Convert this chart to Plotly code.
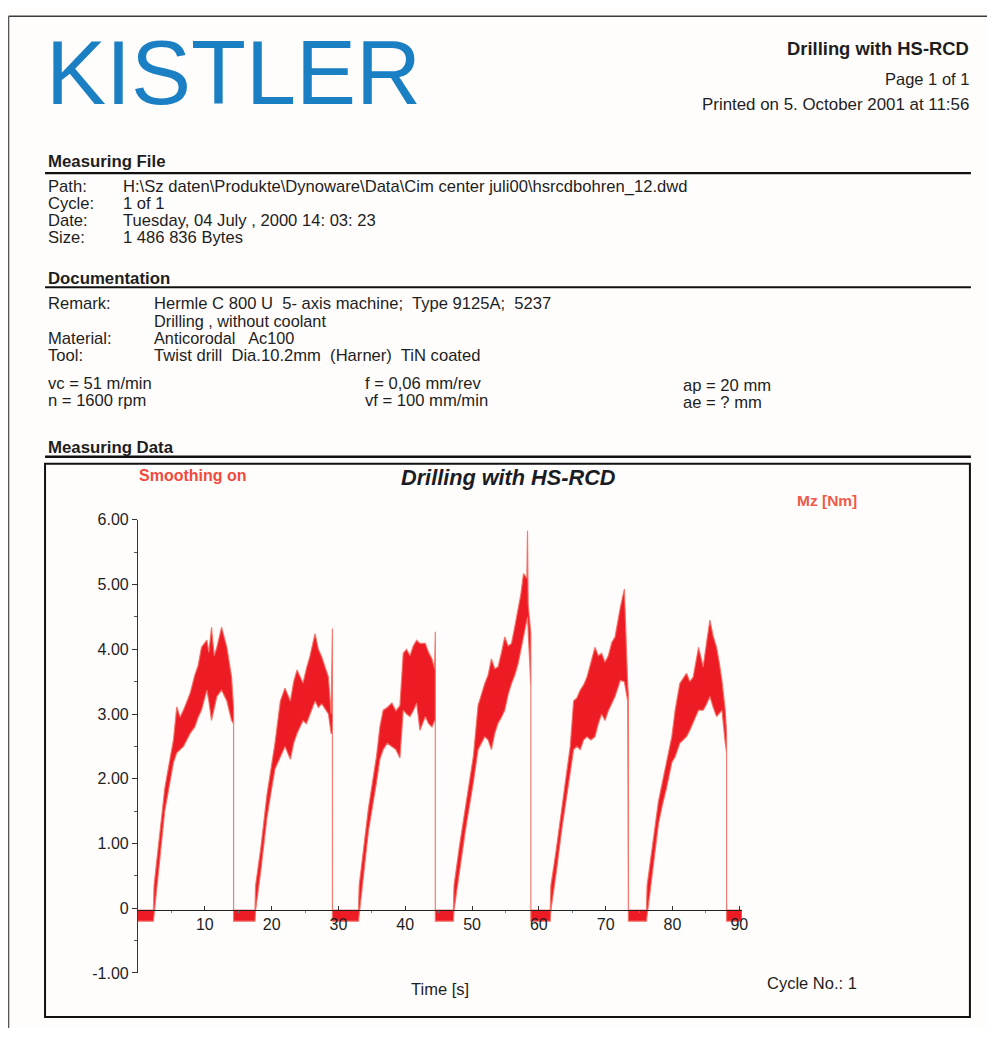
import plotly.graph_objects as go

# Layout positions below are given in reference-page pixels (995 x 1037) and
# mapped to the figure, which sits inside the page's 8 px body margin.
FW, FH = 979, 1020
SX, SY, TY = 0.994, 0.983, 7.5

time_s = [
    0.0, 2.3,
    2.4, 3.2, 4.0, 4.6, 5.3, 5.8, 6.3, 6.8, 7.3, 7.8, 8.5, 9.0, 9.5, 10.3, 10.6, 11.0, 11.4, 11.8, 12.5, 13.3, 14.0, 14.3, 14.3, 17.5,
    17.6, 18.4, 19.3, 20.0, 20.5, 21.3, 22.0, 22.8, 23.3, 23.8, 24.7, 25.2, 25.7, 26.5, 27.0, 27.5, 28.5, 28.9, 29.1, 29.1, 33.0,
    33.1, 33.8, 34.5, 35.1, 35.7, 36.2, 36.7, 37.3, 38.0, 38.6, 39.2, 39.7, 40.2, 40.7, 41.2, 41.7, 42.2, 43.0, 43.5, 44.0, 44.4, 44.5, 44.5, 47.2,
    47.3, 48.1, 49.0, 49.6, 50.2, 50.9, 51.4, 51.9, 52.4, 52.9, 53.4, 53.9, 54.4, 54.9, 55.4, 55.9, 56.4, 56.9, 57.3, 57.7, 58.2, 58.3, 58.4, 58.8, 58.8, 61.7,
    61.8, 62.6, 63.4, 64.1, 64.7, 65.2, 65.7, 66.2, 66.7, 67.2, 67.8, 68.4, 68.9, 69.4, 69.9, 70.4, 70.9, 71.4, 72.2, 72.8, 73.3, 73.4, 73.4, 76.1,
    76.2, 77.0, 77.9, 78.5, 79.1, 79.9, 80.4, 81.1, 81.6, 82.1, 82.6, 83.1, 83.9, 84.6, 85.1, 85.6, 86.1, 86.6, 87.0, 87.4, 87.9, 88.1, 88.1, 90.4,
]
mz_high = [
    -0.03, -0.03,
    0.35, 1.1, 1.85, 2.2, 2.6, 3.11, 2.95, 3.06, 3.2, 3.32, 3.6, 3.75, 4.03, 4.14, 3.95, 4.34, 3.9, 4.03, 4.34, 4.03, 3.57, 3.1, -0.03, -0.03,
    0.35, 0.95, 1.75, 2.2, 2.55, 3.2, 3.4, 3.2, 3.5, 3.68, 3.48, 3.7, 3.88, 4.24, 4.0, 3.88, 3.57, 3.0, 4.32, -0.03, -0.03,
    0.35, 0.95, 1.55, 1.95, 2.35, 2.8, 3.06, 3.1, 3.17, 3.05, 3.13, 3.94, 4.0, 3.9, 4.05, 4.14, 4.09, 4.09, 3.95, 3.85, 3.7, 4.27, -0.03, -0.03,
    0.35, 0.95, 1.55, 1.95, 2.35, 3.13, 3.3, 3.47, 3.6, 3.85, 3.7, 3.73, 3.95, 4.19, 4.05, 4.09, 4.35, 4.6, 4.85, 5.17, 5.1, 5.83, 4.7, 4.24, -0.03, -0.03,
    0.35, 0.9, 1.55, 2.05, 2.5, 3.2, 3.25, 3.37, 3.45, 3.57, 3.8, 4.03, 3.9, 3.94, 3.8, 3.9, 4.1, 4.19, 4.65, 4.93, 3.45, 3.3, -0.03, -0.03,
    0.35, 0.95, 1.65, 1.95, 2.25, 2.65, 3.06, 3.47, 3.55, 3.63, 3.5, 3.57, 4.03, 3.73, 4.1, 4.45, 4.2, 4.03, 3.8, 3.52, 3.06, 2.7, -0.03, -0.03,
]
mz_low = [
    -0.2, -0.2,
    -0.03, 0.7, 1.5, 1.85, 2.25, 2.4, 2.45, 2.5, 2.6, 2.7, 2.8, 2.95, 3.06, 3.37, 3.2, 2.9, 3.1, 3.27, 3.37, 3.2, 2.9, 2.85, -0.2, -0.2,
    -0.03, 0.6, 1.4, 1.85, 2.15, 2.34, 2.5, 2.3, 2.55, 2.7, 2.9, 2.85, 3.0, 3.2, 3.1, 3.16, 3.0, 2.7, 2.7, -0.2, -0.2,
    -0.03, 0.55, 1.2, 1.6, 1.95, 2.3, 2.45, 2.55, 2.5, 2.45, 2.32, 3.06, 3.0, 2.96, 3.05, 3.17, 2.75, 2.96, 2.85, 2.8, 2.9, 2.9, -0.2, -0.2,
    -0.03, 0.55, 1.2, 1.6, 1.95, 2.45, 2.55, 2.65, 2.6, 2.45, 2.7, 2.86, 2.95, 3.06, 3.3, 3.47, 3.6, 3.78, 4.0, 4.19, 4.45, 4.5, 4.3, 3.42, -0.2, -0.2,
    -0.03, 0.55, 1.2, 1.7, 2.1, 2.45, 2.5, 2.45, 2.6, 2.65, 2.6, 2.65, 2.85, 3.0, 2.9, 3.05, 3.15, 3.27, 3.52, 3.5, 3.2, 3.1, -0.2, -0.2,
    -0.03, 0.55, 1.3, 1.6, 1.85, 2.25, 2.34, 2.55, 2.6, 2.65, 2.75, 2.86, 3.06, 3.06, 3.15, 3.27, 3.1, 2.96, 3.0, 3.06, 2.55, 2.4, -0.2, -0.2,
]

x_ticks = [10, 20, 30, 40, 50, 60, 70, 80, 90]
x_tick_labels = ["10", "20", "30", "40", "50", "60", "70", "80", "90"]
x_minor = [5, 15, 25, 35, 45, 55, 65, 75, 85]
y_ticks = [-1, 0, 1, 2, 3, 4, 5, 6]
y_tick_labels = ["-1.00", "0", "1.00", "2.00", "3.00", "4.00", "5.00", "6.00"]
y_minor = [-0.5, 0.5, 1.5, 2.5, 3.5, 4.5, 5.5]

FONT = "Liberation Sans, Arial, Helvetica, sans-serif"
INK = "#1e1e1e"
RED = "#ed1c24"


def px(x):
    return (x / SX - 8) / FW


def py(y):
    return 1 - ((y - TY) / SY - 8) / FH


poly_x = time_s + time_s[::-1]
poly_y = mz_high + mz_low[::-1]

fig = go.Figure()
fig.add_trace(go.Scatter(
    x=poly_x, y=poly_y, mode="lines", fill="toself",
    fillcolor=RED, line=dict(color="rgba(244,110,100,0.9)", width=1.2),
    hoverinfo="skip", showlegend=False,
))

annotations = []


def txt(x, y, s, size=16.6, bold=False, italic=False, color=INK, xanchor="left", family=FONT):
    if bold:
        s = "<b>" + s + "</b>"
    if italic:
        s = "<i>" + s + "</i>"
    annotations.append(dict(
        x=px(x), y=py(y), xref="paper", yref="paper", text=s, showarrow=False,
        xanchor=xanchor, yanchor="middle", font=dict(size=size, color=color, family=family),
    ))


# header
txt(44, 72.5, "KISTLER", size=90, color="#1b7fc3")
txt(971, 48, "Drilling with HS-RCD", size=18.4, bold=True, xanchor="right")
txt(971, 78, "Page 1 of 1", size=16.5, xanchor="right")
txt(971, 104, "Printed on 5. October 2001 at 11:56", size=16.9, xanchor="right")

# measuring file
txt(46, 161, "Measuring File", size=16.8, bold=True)
file_labels = ["Path:", "Cycle:", "Date:", "Size:"]
file_values = ["H:\\Sz daten\\Produkte\\Dynoware\\Data\\Cim center juli00\\hsrcdbohren_12.dwd",
               "1 of 1", "Tuesday, 04 July , 2000 14: 03: 23", "1 486 836 Bytes"]
file_rows_y = [186, 202.5, 220, 237]
for lab, val, yy in zip(file_labels, file_values, file_rows_y):
    txt(46, yy, lab)
    txt(121, yy, val)

# documentation
txt(46, 277.5, "Documentation", size=16.8, bold=True)
txt(46, 303, "Remark:")
txt(152, 303, "Hermle C 800 U  5- axis machine;  Type 9125A;  5237")
txt(152, 320, "Drilling , without coolant", size=16.3)
txt(46, 337.5, "Material:")
txt(152, 337.5, "Anticorodal   Ac100", size=16.3)
txt(46, 354.5, "Tool:")
txt(152, 354.5, "Twist drill  Dia.10.2mm  (Harner)  TiN coated")
txt(46, 382.5, "vc = 51 m/min")
txt(46, 399.5, "n = 1600 rpm")
txt(363, 382.5, "f = 0,06 mm/rev")
txt(363, 399.5, "vf = 100 mm/min")
txt(681, 385, "ap = 20 mm")
txt(681, 402, "ae = ? mm")

# measuring data
txt(46, 446.5, "Measuring Data", size=16.8, bold=True)
txt(137, 475, "Smoothing on", size=16, bold=True, color="#f04a3c")
txt(509, 477, "Drilling with HS-RCD", size=21.7, bold=True, italic=True, color="#1a1c24", xanchor="center")
txt(827, 500, "Mz [Nm]", size=15.5, bold=True, color="#f05a48", xanchor="center")
txt(440, 988, "Time [s]", size=16.5, xanchor="center")
txt(812, 982, "Cycle No.: 1", size=16.5, xanchor="center")

shapes = []


def line(x0, y0, x1, y1, w=1.0, c="#111"):
    shapes.append(dict(type="line", xref="paper", yref="paper",
                       x0=px(x0), y0=py(y0), x1=px(x1), y1=py(y1),
                       line=dict(color=c, width=w)))


line(8.5, 15.5, 995, 15.5, 1.5, "#3a3a3a")
line(8.5, 15.5, 8.5, 1037, 1.5, "#555")
line(45, 172.5, 971, 172.5, 2.2)
line(45, 286.5, 971, 286.5, 2.2)
line(45, 456, 971, 456, 2.6)
shapes.append(dict(type="rect", xref="paper", yref="paper",
                   x0=px(45), y0=py(1016), x1=px(970), y1=py(463),
                   line=dict(color="#111", width=2)))

x_dom = [px(138), px(742)]
y_dom = [py(972), py(519)]
x_pos = py(909)

fig.update_layout(
    width=FW, height=FH, margin=dict(l=0, r=0, t=0, b=0),
    paper_bgcolor="#fffdfc", plot_bgcolor="rgba(0,0,0,0)",
    showlegend=False, annotations=annotations, shapes=shapes,
    font=dict(family=FONT, color=INK),
    xaxis=dict(
        domain=x_dom, range=[0, 90.4], anchor="free", position=x_pos,
        showline=True, linecolor="#222", linewidth=1.2, showgrid=False, zeroline=False,
        tickmode="array", tickvals=x_ticks, ticktext=x_tick_labels,
        ticks="inside", ticklen=4, tickcolor="#333", tickwidth=1,
        tickfont=dict(size=16, color=INK, family=FONT),
        minor=dict(tickvals=x_minor, ticks="outside", ticklen=2, tickcolor="#6a8aa8"),
    ),
    yaxis=dict(
        domain=y_dom, range=[-1, 6], anchor="x",
        showline=True, linecolor="#333", linewidth=1.2, showgrid=False, zeroline=False,
        tickmode="array", tickvals=y_ticks, ticktext=y_tick_labels,
        ticks="outside", ticklen=5, tickcolor="#333", tickwidth=1,
        tickfont=dict(size=16, color=INK, family=FONT),
        minor=dict(tickvals=y_minor, ticks="outside", ticklen=3, tickcolor="#555"),
    ),
)

fig.write_html("out.html")
